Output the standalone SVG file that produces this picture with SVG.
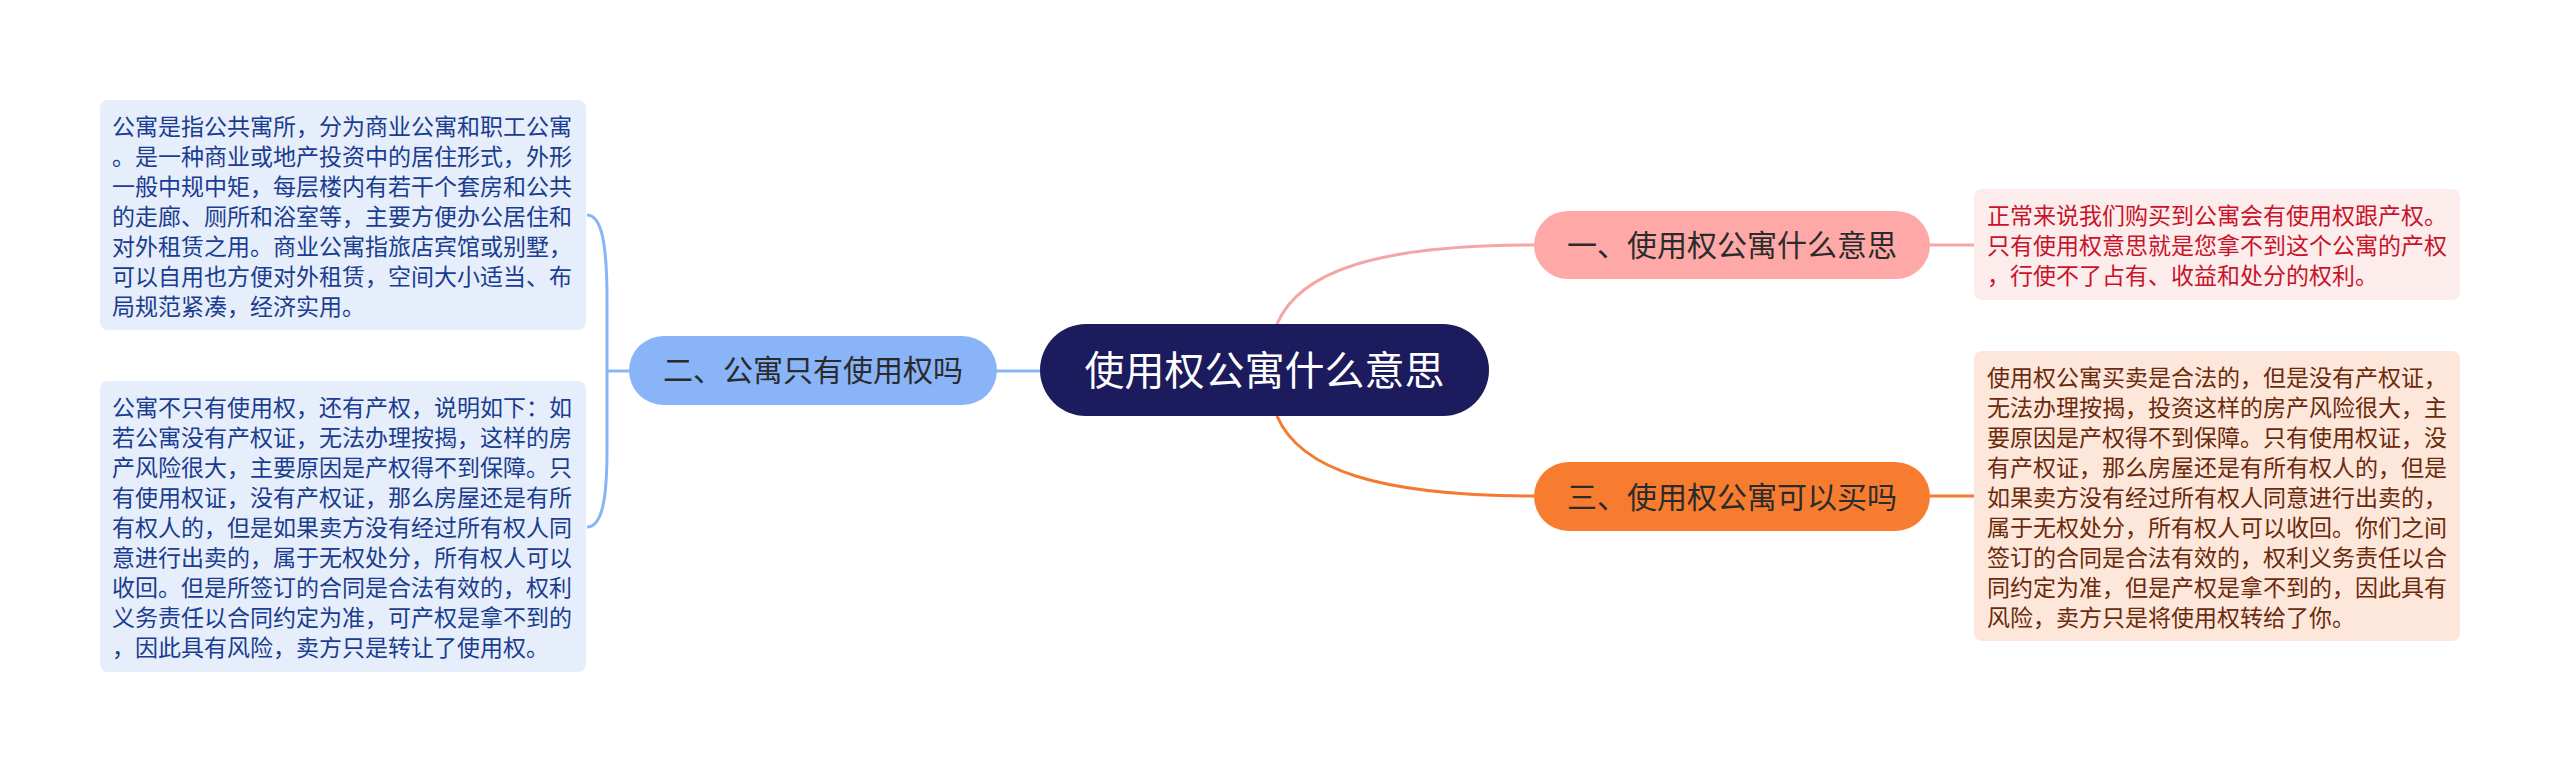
<svg xmlns="http://www.w3.org/2000/svg" width="2560" height="771" viewBox="0 0 2560 771">
<style>
text{font-family:"Noto Sans CJK SC","Noto Sans",sans-serif;}
.box{font-size:23px;}
.lb{fill:#e6eefc;}
.lt{fill:#1a3d8f;}
.br{font-size:30px;fill:#2b2b2b;text-anchor:middle;}
.conn{fill:none;stroke-width:3;}
</style>
<rect width="2560" height="771" fill="#ffffff"/>
<g id="connectors">
<path class="conn" stroke="#8ab4f8" d="M1040,371 L997,371"/>
<path class="conn" stroke="#8ab4f8" d="M629,371 L607,371"/>
<path class="conn" stroke="#8ab4f8" d="M587,215 C603,215 607,250 607,300 L607,371 L607,450 C607,495 603,527 587,527"/>
<path class="conn" stroke="#f4a6a6" d="M1277,324 C1300,270 1380,245 1534,245"/>
<path class="conn" stroke="#f47a30" d="M1277,416 C1300,470 1380,496 1534,496"/>
<path class="conn" stroke="#f4a6a6" d="M1930,245 L1974,245"/>
<path class="conn" stroke="#f47a30" d="M1930,496 L1974,496"/>
</g>
<g id="root">
<rect x="1040" y="324" width="449" height="92" rx="46" fill="#1b1b5e"/>
<text x="1264.5" y="385" font-size="40" fill="#ffffff" text-anchor="middle">使用权公寓什么意思</text>
</g>
<g id="branch1">
<rect x="1534" y="211" width="396" height="68" rx="34" fill="#ffa8a8"/>
<text class="br" x="1732" y="256">一、使用权公寓什么意思</text>
</g>
<g id="branch2">
<rect x="629" y="336" width="368" height="69" rx="34.5" fill="#8ab4f8"/>
<text class="br" x="813" y="381">二、公寓只有使用权吗</text>
</g>
<g id="branch3">
<rect x="1534" y="462" width="396" height="69" rx="34.5" fill="#f77c30"/>
<text class="br" x="1732" y="508">三、使用权公寓可以买吗</text>
</g>
<g id="leaf1">
<rect class="lb" x="100" y="100" width="486" height="230" rx="8"/>
<text class="box lt" x="112">
<tspan x="112" y="135">公寓是指公共寓所，分为商业公寓和职工公寓</tspan>
<tspan x="112" y="165">。是一种商业或地产投资中的居住形式，外形</tspan>
<tspan x="112" y="195">一般中规中矩，每层楼内有若干个套房和公共</tspan>
<tspan x="112" y="225">的走廊、厕所和浴室等，主要方便办公居住和</tspan>
<tspan x="112" y="255">对外租赁之用。商业公寓指旅店宾馆或别墅，</tspan>
<tspan x="112" y="285">可以自用也方便对外租赁，空间大小适当、布</tspan>
<tspan x="112" y="315">局规范紧凑，经济实用。</tspan>
</text>
</g>
<g id="leaf2">
<rect class="lb" x="100" y="381" width="486" height="291" rx="8"/>
<text class="box lt" x="112">
<tspan x="112" y="416">公寓不只有使用权，还有产权，说明如下：如</tspan>
<tspan x="112" y="446">若公寓没有产权证，无法办理按揭，这样的房</tspan>
<tspan x="112" y="476">产风险很大，主要原因是产权得不到保障。只</tspan>
<tspan x="112" y="506">有使用权证，没有产权证，那么房屋还是有所</tspan>
<tspan x="112" y="536">有权人的，但是如果卖方没有经过所有权人同</tspan>
<tspan x="112" y="566">意进行出卖的，属于无权处分，所有权人可以</tspan>
<tspan x="112" y="596">收回。但是所签订的合同是合法有效的，权利</tspan>
<tspan x="112" y="626">义务责任以合同约定为准，可产权是拿不到的</tspan>
<tspan x="112" y="656">，因此具有风险，卖方只是转让了使用权。</tspan>
</text>
</g>
<g id="leaf3">
<rect x="1974" y="189" width="486" height="111" rx="8" fill="#fdecec"/>
<text class="box" fill="#c8142a">
<tspan x="1987" y="224">正常来说我们购买到公寓会有使用权跟产权。</tspan>
<tspan x="1987" y="254">只有使用权意思就是您拿不到这个公寓的产权</tspan>
<tspan x="1987" y="284">，行使不了占有、收益和处分的权利。</tspan>
</text>
</g>
<g id="leaf4">
<rect x="1974" y="351" width="486" height="290" rx="8" fill="#fde6da"/>
<text class="box" fill="#6b2a0b">
<tspan x="1987" y="386">使用权公寓买卖是合法的，但是没有产权证，</tspan>
<tspan x="1987" y="416">无法办理按揭，投资这样的房产风险很大，主</tspan>
<tspan x="1987" y="446">要原因是产权得不到保障。只有使用权证，没</tspan>
<tspan x="1987" y="476">有产权证，那么房屋还是有所有权人的，但是</tspan>
<tspan x="1987" y="506">如果卖方没有经过所有权人同意进行出卖的，</tspan>
<tspan x="1987" y="536">属于无权处分，所有权人可以收回。你们之间</tspan>
<tspan x="1987" y="566">签订的合同是合法有效的，权利义务责任以合</tspan>
<tspan x="1987" y="596">同约定为准，但是产权是拿不到的，因此具有</tspan>
<tspan x="1987" y="626">风险，卖方只是将使用权转给了你。</tspan>
</text>
</g>
</svg>
